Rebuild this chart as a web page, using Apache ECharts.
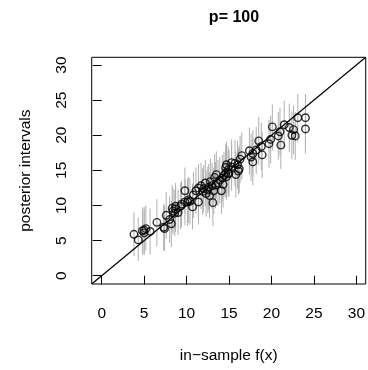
<!DOCTYPE html>
<html>
<head>
<meta charset="utf-8">
<script src="https://cdn.jsdelivr.net/npm/echarts@6/dist/echarts.min.js"></script>
<style>html,body{margin:0;padding:0;background:#fff}#c{width:368px;height:370px}</style>
</head>
<body>
<div id="c"></div>
<script>
// in-sample f(x)
const fx = [3.8,4.3,4.8,5.0,5.2,5.7,6.5,7.3,7.4,7.6,8.0,8.2,8.3,8.4,8.6,8.7,9.0,9.3,9.4,9.8,
  10.1,9.8,10.4,10.7,10.8,11.1,11.4,11.4,11.7,11.9,12.2,12.3,12.5,12.7,12.8,13.0,13.1,13.2,13.3,13.5,
  13.7,13.9,14.1,14.2,14.4,14.6,14.7,14.9,14.9,14.6,14.7,15.3,15.3,15.7,15.8,16.1,16.2,16.3,16.5,17.4,
  17.6,17.8,17.8,18.2,18.5,18.8,18.9,19.7,19.9,20.1,20.8,21.0,21.1,21.5,22.1,22.4,22.6,22.8,23.1,24.0,
  24.0,12.0,13.4,14.3,15.0,10.2,8.7,5.0,16.0,12.6];
// posterior means
const postMean = [5.9,5.1,6.4,6.1,6.7,6.3,7.6,6.9,6.7,8.6,8.0,7.4,9.6,9.2,8.9,9.9,9.0,9.9,10.2,10.5,
  10.5,12.1,10.6,9.8,11.5,12.1,12.5,10.5,12.8,12.0,13.2,11.7,12.2,11.4,13.4,12.8,10.4,12.1,14.0,14.4,
  13.2,13.6,12.1,13.9,14.3,14.6,14.1,14.5,15.1,15.4,15.8,15.5,16.1,16.0,14.4,14.9,15.2,16.6,17.1,17.8,
  16.9,17.4,16.2,17.9,19.2,18.4,17.2,18.8,19.4,21.2,19.9,20.5,18.6,21.5,21.1,20.0,20.8,19.9,22.5,22.5,
  20.9,12.4,12.9,13.0,14.6,10.8,9.5,6.5,15.8,12.6];
// interval lower ends
const lo = [2.8,2.1,3.0,2.9,3.6,3.0,4.2,3.6,3.5,5.3,4.7,4.1,6.3,5.9,5.6,6.5,5.8,6.6,6.9,7.2,
  7.1,8.8,7.3,6.6,8.2,8.8,9.1,7.3,9.5,8.7,9.9,8.4,8.9,8.2,10.0,9.5,7.1,8.8,10.6,11.0,
  9.9,10.3,8.8,10.5,11.0,11.2,10.8,11.2,11.8,12.0,12.5,12.1,12.8,12.7,11.1,11.6,11.8,13.2,13.7,14.4,
  13.5,14.1,12.9,14.5,15.8,15.0,13.9,15.4,16.0,17.8,16.5,17.1,15.2,18.1,17.6,16.6,17.3,16.5,19.0,19.0,
  17.4,9.1,9.6,9.7,11.3,7.5,6.2,3.2,12.4,9.3];
// interval upper ends
const hi = [9.0,8.3,9.7,9.4,10.0,9.6,10.9,10.2,10.0,11.9,11.3,10.7,12.9,12.5,12.2,13.2,12.3,13.2,13.5,13.8,
  13.8,15.4,13.9,13.1,14.8,15.4,15.9,13.8,16.1,15.3,16.5,15.0,15.5,14.7,16.7,16.1,13.7,15.4,17.3,17.7,
  16.5,16.9,15.4,17.2,17.6,17.9,17.4,17.8,18.4,18.7,19.1,18.8,19.4,19.3,17.7,18.2,18.5,19.9,20.4,21.1,
  20.2,20.7,19.5,21.2,22.6,21.8,20.5,22.2,22.8,24.4,23.3,23.9,22.0,24.9,24.5,23.4,24.2,23.3,25.9,25.9,
  24.3,15.7,16.2,16.3,17.9,14.1,12.8,9.8,19.2,15.9];
const tickValues = [0,5,10,15,20,25,30];
const axisMin = -1.18, axisMax = 31.1;

const pts = fx.map((x,i)=>[x, postMean[i]]);
const bars = fx.map((x,i)=>[x, lo[i], hi[i]]);

const chart = echarts.init(document.getElementById('c'), null, {renderer:'canvas'});
const font = '"Liberation Sans", Arial, Helvetica, sans-serif';
chart.setOption({
  animation:false,
  backgroundColor:'#fff',
  title:{text:'p= 100', left:229, top:5, textAlign:'center',
    textStyle:{fontFamily:font, fontWeight:'bold', fontSize:16, color:'#000'}},
  grid:{left:91.7, top:57.3, right:2, bottom:86, show:true, borderColor:'#000', borderWidth:1, backgroundColor:'transparent'},
  xAxis:{type:'value', min:axisMin, max:axisMax,
    axisLine:{show:false}, splitLine:{show:false},
    axisTick:{show:true, inside:false, length:9, customValues:tickValues, lineStyle:{color:'#000', width:1}},
    axisLabel:{customValues:tickValues, margin:22, fontFamily:font, fontSize:15.5, color:'#000'},
    name:'in\u2212sample f(x)', nameLocation:'middle', nameGap:64,
    nameTextStyle:{fontFamily:font, fontSize:15.5, color:'#000'}},
  yAxis:{type:'value', min:axisMin, max:axisMax,
    axisLine:{show:false}, splitLine:{show:false},
    axisTick:{show:true, inside:false, length:9, customValues:tickValues, lineStyle:{color:'#000', width:1}},
    axisLabel:{customValues:tickValues, rotate:90, margin:22, fontFamily:font, fontSize:15.5, color:'#000'},
    name:'posterior intervals', nameLocation:'middle', nameGap:58,
    nameTextStyle:{fontFamily:font, fontSize:15.5, color:'#000'}},
  series:[
    {type:'custom', data:bars, z:1, clip:true,
      renderItem:function(params, api){
        const p1 = api.coord([api.value(0), api.value(1)]);
        const p2 = api.coord([api.value(0), api.value(2)]);
        return {type:'line', shape:{x1:p1[0], y1:p1[1], x2:p2[0], y2:p2[1]},
          style:{stroke:'#b0b0b0', lineWidth:1}};
      }},
    {type:'line', data:[[axisMin,axisMin],[axisMax,axisMax]], symbol:'none', z:2,
      lineStyle:{color:'#000', width:1.2}},
    {type:'scatter', data:pts, z:3, symbol:'circle', symbolSize:7.5,
      itemStyle:{color:'rgba(0,0,0,0)', borderColor:'#000', borderWidth:1.4}}
  ]
});
</script>
</body>
</html>
